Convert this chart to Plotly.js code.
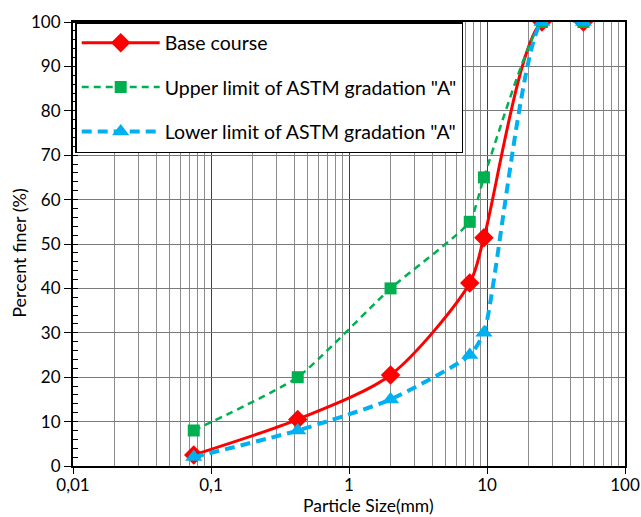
<!DOCTYPE html>
<html>
<head>
<meta charset="utf-8">
<script src="https://cdn.plot.ly/plotly-3.0.1.min.js"></script>
<style>html,body{margin:0;padding:0;background:#fff;}#chart{width:641px;height:517px;}</style>
</head>
<body>
<div id="chart"></div>
<script>
const sieveSizes = [0.075, 0.425, 2, 7.5, 9.5, 25, 50];
const baseCourse = [2.5, 10.5, 20.5, 41.2, 51.4, 100, 100];
const upperLimit = [8, 20, 40, 55, 65, 100, 100];
const lowerLimit = [2, 8, 15, 25, 30, 100, 100];
const seriesNames = ['Base course', 'Upper limit of ASTM gradation "A"', 'Lower limit of ASTM gradation "A"'];
const xTickVals = [0.01, 0.1, 1, 10, 100];
const xTickText = ['0,01', '0,1', '1', '10', '100'];

const FONT = 'Lato, "Open Sans", sans-serif';

const traces = [
  {
    x: sieveSizes, y: baseCourse, name: seriesNames[0], legendgroup: 'a',
    type: 'scatter', mode: 'lines+markers',
    line: {color: '#FF0000', width: 3, shape: 'spline', smoothing: 0.8},
    marker: {symbol: 'diamond', size: 15, color: '#FF0000'}
  },
  {
    x: sieveSizes, y: upperLimit, name: seriesNames[1], legendgroup: 'b',
    type: 'scatter', mode: 'lines+markers',
    line: {color: '#00B050', width: 2.5, dash: '7px,5px', shape: 'spline', smoothing: 0.5},
    marker: {symbol: 'square', size: 12, color: '#00B050'}
  },
  {
    x: sieveSizes, y: lowerLimit, name: seriesNames[2], legendgroup: 'c',
    type: 'scatter', mode: 'lines+markers',
    line: {color: '#00B0F0', width: 4, dash: '10px,6px', shape: 'spline', smoothing: 0.6},
    marker: {symbol: 'triangle-up', size: 15, color: '#00B0F0'}
  }
];

const layout = {
  width: 641, height: 517,
  margin: {l: 73, r: 16, t: 22, b: 51},
  paper_bgcolor: '#fff', plot_bgcolor: '#fff',
  font: {family: FONT, size: 18, color: '#000'},
  showlegend: true,
  legend: {
    x: 0.004, y: 1, xanchor: 'left', yanchor: 'top',
    bgcolor: '#fff', bordercolor: '#000', borderwidth: 1.5,
    font: {family: FONT, size: 19.5, color: '#000'},
    tracegroupgap: 16, itemwidth: 78, traceorder: 'grouped'
  },
  xaxis: {
    type: 'log', range: [-2, 2],
    tickvals: xTickVals, ticktext: xTickText,
    ticks: 'outside', ticklen: 6, tickcolor: '#000',
    ticklabeloverflow: 'allow', ticklabelstandoff: -3,
    showgrid: true, gridcolor: '#404040', gridwidth: 1,
    minor: {dtick: 'D1', showgrid: true, gridcolor: '#8c8c8c', gridwidth: 1, ticks: ''},
    showline: true, linecolor: '#000', linewidth: 2, mirror: true,
    tickfont: {family: FONT, size: 17}, zeroline: false
  },
  yaxis: {
    range: [0, 100], dtick: 10,
    ticks: 'outside', ticklen: 7, tickcolor: '#000',
    showgrid: true, gridcolor: '#7a7a7a', gridwidth: 1,
    minor: {dtick: 2, ticks: 'inside', ticklen: 5, tickcolor: '#000', showgrid: false},
    showline: true, linecolor: '#000', linewidth: 2, mirror: true,
    tickfont: {family: FONT, size: 17}, zeroline: false
  },
  annotations: [
    {text: 'Particle Size(mm)', xref: 'paper', yref: 'paper', x: 0.536, y: -0.1149,
     xanchor: 'center', yanchor: 'bottom', borderpad: 0, showarrow: false, font: {family: FONT, size: 17.5}},
    {text: 'Percent finer (%)', xref: 'paper', yref: 'paper', x: -0.098, y: 0.48,
     xanchor: 'center', yanchor: 'middle', textangle: -90, showarrow: false, font: {family: FONT, size: 18}}
  ]
};

Plotly.newPlot('chart', traces, layout, {displayModeBar: false, staticPlot: true});
</script>
</body>
</html>
